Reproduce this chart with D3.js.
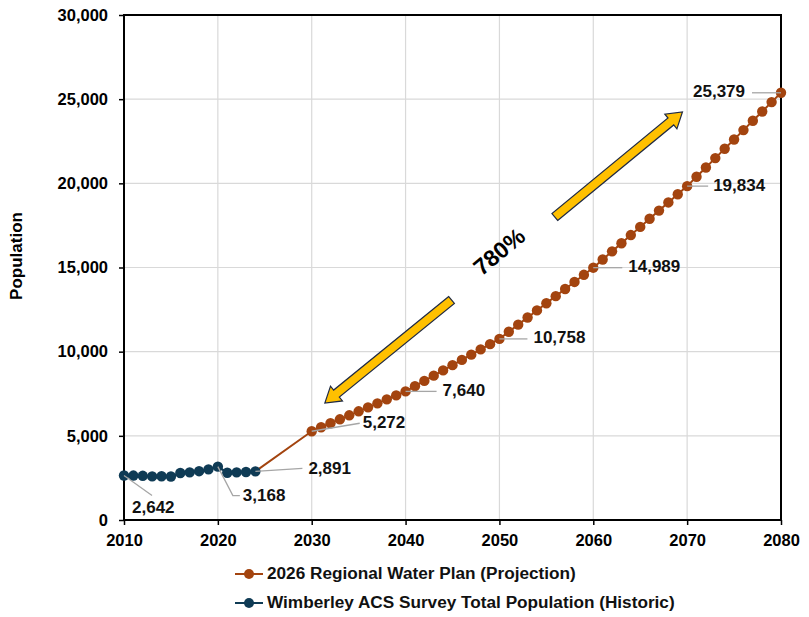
<!DOCTYPE html>
<html>
<head>
<meta charset="utf-8">
<script src="https://cdn.jsdelivr.net/npm/d3@7"></script>
<style>
  html, body { margin: 0; padding: 0; background: #ffffff; }
  svg { display: block; font-family: "Liberation Sans", Arial, sans-serif; }
</style>
</head>
<body>
<svg id="chart" width="809" height="617"></svg>
<script>
// ---------------- DATA ----------------
const historicYears = [2010, 2011, 2012, 2013, 2014, 2015, 2016, 2017, 2018, 2019, 2020, 2021, 2022, 2023, 2024];
const historicValues = [2642, 2640, 2625, 2590, 2600, 2585, 2790, 2830, 2900, 3010, 3168, 2810, 2830, 2850, 2891];

const projectionYears = d3.range(2030, 2081);
const projectionValues = [
  5272, 5509, 5746, 5982, 6219, 6456, 6693, 6930, 7166, 7403,
  7640, 7952, 8264, 8575, 8887, 9199, 9511, 9823, 10134, 10446,
  10758, 11181, 11604, 12027, 12450, 12874, 13297, 13720, 14143, 14566,
  14989, 15474, 15958, 16443, 16927, 17412, 17896, 18381, 18865, 19350,
  19834, 20389, 20943, 21498, 22052, 22607, 23161, 23716, 24270, 24825,
  25379
];
// projection line connects from the last historic point
const projectionLineStart = { year: 2024, value: 2891 };

const xTicks = [2010, 2020, 2030, 2040, 2050, 2060, 2070, 2080];
const yTicks = [0, 5000, 10000, 15000, 20000, 25000, 30000];

const labelYears = [2010, 2020, 2024, 2030, 2040, 2050, 2060, 2070, 2080];
const growthText = "780%";
const arrowDown = { from: [2044.9, 13070], to: [2031.4, 6950] };
const arrowUp = { from: [2055.9, 18000], to: [2069.5, 24240] };
const growthTextPos = [2050.1, 15860];

const seriesNames = ["2026 Regional Water Plan (Projection)", "Wimberley ACS Survey Total Population (Historic)"];
const colors = { projection: "#A3440F", historic: "#0F3B55", grid: "#D9D9D9", leader: "#A6A6A6", arrow: "#FFC000", arrowStroke: "#1F2A44" };

// ---------------- CHART ----------------
(function () {
const svg = d3.select("#chart");
const mLeft = 124, mRight = 781, mTop = 15, mBottom = 520;
const x = d3.scaleLinear().domain([2010, 2080]).range([mLeft, mRight]);
const y = d3.scaleLinear().domain([0, 30000]).range([mBottom, mTop]);
const fmt = d3.format(",");

// gridlines
const grid = svg.append("g");
grid.selectAll("line.gx").data(xTicks).join("line").attr("class", "gx")
  .attr("x1", d => x(d)).attr("x2", d => x(d)).attr("y1", mTop).attr("y2", mBottom)
  .attr("stroke", colors.grid).attr("stroke-width", 1.2);
grid.selectAll("line.gy").data(yTicks).join("line").attr("class", "gy")
  .attr("x1", mLeft).attr("x2", mRight).attr("y1", d => y(d)).attr("y2", d => y(d))
  .attr("stroke", colors.grid).attr("stroke-width", 1.2);

// axes
const xAxis = d3.axisBottom(x).tickValues(xTicks).tickFormat(d3.format("d")).tickSize(5).tickPadding(9);
const yAxis = d3.axisLeft(y).tickValues(yTicks).tickFormat(fmt).tickSize(5).tickPadding(11);
const gx = svg.append("g").attr("transform", `translate(0,${mBottom})`).call(xAxis);
const gy = svg.append("g").attr("transform", `translate(${mLeft},0)`).call(yAxis);
[gx, gy].forEach(g => {
  g.select(".domain").remove();
  g.selectAll(".tick line").attr("stroke", "#000").attr("stroke-width", 1.5);
  g.selectAll(".tick text").attr("font-size", 16.5).attr("font-weight", "bold").attr("fill", "#000")
    .attr("font-family", "'Liberation Sans', Arial, sans-serif");
});

// frame
svg.append("rect").attr("x", mLeft).attr("y", mTop).attr("width", mRight - mLeft).attr("height", mBottom - mTop)
  .attr("fill", "none").attr("stroke", "#000").attr("stroke-width", 2);

// y-axis title
svg.append("text").attr("transform", `translate(18,256) rotate(-90)`)
  .attr("text-anchor", "middle").attr("dominant-baseline", "middle")
  .attr("font-size", 17).attr("font-weight", "bold").text("Population");

// series data
const projData = projectionYears.map((yr, i) => ({ year: yr, value: projectionValues[i] }));
const histData = historicYears.map((yr, i) => ({ year: yr, value: historicValues[i] }));
const line = d3.line().x(d => x(d.year)).y(d => y(d.value));
const allData = new Map([...histData, ...projData].map(d => [d.year, d.value]));

const labelLayout = {
  2010: { pts: [[28, 20]], tx: 8, ty: 33, anchor: "start" },
  2020: { pts: [[15, 29], [22, 29]], tx: 25, ty: 30, anchor: "start" },
  2024: { pts: [[47, -3]], tx: 53, ty: -2, anchor: "start" },
  2030: { pts: [[48, -8]], tx: 51, ty: -8, anchor: "start" },
  2040: { pts: [[31, 0]], tx: 37, ty: 0, anchor: "start" },
  2050: { pts: [[28, 0]], tx: 34, ty: 0, anchor: "start" },
  2060: { pts: [[29, 0]], tx: 35, ty: 0, anchor: "start" },
  2070: { pts: [[21, 0]], tx: 26, ty: 0, anchor: "start" },
  2080: { pts: [[-29, 0]], tx: -36, ty: 0, anchor: "end" }
};

// projection series
svg.append("path").datum([projectionLineStart, ...projData]).attr("d", line)
  .attr("fill", "none").attr("stroke", colors.projection).attr("stroke-width", 2);
svg.append("g").selectAll("circle").data(projData).join("circle")
  .attr("cx", d => x(d.year)).attr("cy", d => y(d.value)).attr("r", 5.2).attr("fill", colors.projection);

// historic series
svg.append("path").datum(histData).attr("d", line)
  .attr("fill", "none").attr("stroke", colors.historic).attr("stroke-width", 2);
svg.append("g").selectAll("circle").data(histData).join("circle")
  .attr("cx", d => x(d.year)).attr("cy", d => y(d.value)).attr("r", 5.2).attr("fill", colors.historic);

// data labels with leader lines
const labels = svg.append("g");
labelYears.forEach(yr => {
  const v = allData.get(yr);
  const px = x(yr), py = y(v);
  const L = labelLayout[yr];
  const path = [[px, py], ...L.pts.map(p => [px + p[0], py + p[1]])];
  labels.append("path").attr("d", d3.line()(path)).attr("fill", "none")
    .attr("stroke", colors.leader).attr("stroke-width", 1.3);
  labels.append("text").attr("x", px + L.tx).attr("y", py + L.ty)
    .attr("dominant-baseline", "middle").attr("text-anchor", L.anchor)
    .attr("font-size", 17).attr("font-weight", "bold").attr("fill", "#111").text(fmt(v));
});

// arrows
function blockArrow(a) {
  const x0 = x(a.from[0]), y0 = y(a.from[1]), x1 = x(a.to[0]), y1 = y(a.to[1]);
  const dx = x1 - x0, dy = y1 - y0, len = Math.hypot(dx, dy);
  const ux = dx / len, uy = dy / len, nx = -uy, ny = ux;
  const sw = 4.5, hw = 9.5, hl = 15;
  const bx = x1 - ux * hl, by = y1 - uy * hl;
  const pts = [
    [x0 + nx * sw, y0 + ny * sw], [bx + nx * sw, by + ny * sw], [bx + nx * hw, by + ny * hw],
    [x1, y1], [bx - nx * hw, by - ny * hw], [bx - nx * sw, by - ny * sw], [x0 - nx * sw, y0 - ny * sw]
  ];
  svg.append("polygon").attr("points", pts.map(p => p.join(",")).join(" "))
    .attr("fill", colors.arrow).attr("stroke", colors.arrowStroke).attr("stroke-width", 1.2)
    .attr("stroke-linejoin", "miter");
}
blockArrow(arrowDown);
blockArrow(arrowUp);

svg.append("text").attr("transform", `translate(${x(growthTextPos[0])},${y(growthTextPos[1])}) rotate(-40)`)
  .attr("text-anchor", "middle").attr("dominant-baseline", "middle")
  .attr("font-size", 23).attr("font-weight", "bold").attr("fill", "#000").text(growthText);

// legend
const legend = svg.append("g");
const legendItems = [
  { name: seriesNames[0], color: colors.projection, y: 574 },
  { name: seriesNames[1], color: colors.historic, y: 603 }
];
legendItems.forEach(it => {
  legend.append("line").attr("x1", 235).attr("x2", 263).attr("y1", it.y).attr("y2", it.y)
    .attr("stroke", it.color).attr("stroke-width", 2);
  legend.append("circle").attr("cx", 249).attr("cy", it.y).attr("r", 5).attr("fill", it.color);
  legend.append("text").attr("x", 267).attr("y", it.y).attr("dominant-baseline", "middle")
    .attr("font-size", 17.2).attr("font-weight", "bold").attr("fill", "#111").text(it.name);
});
})();
</script>
</body>
</html>
